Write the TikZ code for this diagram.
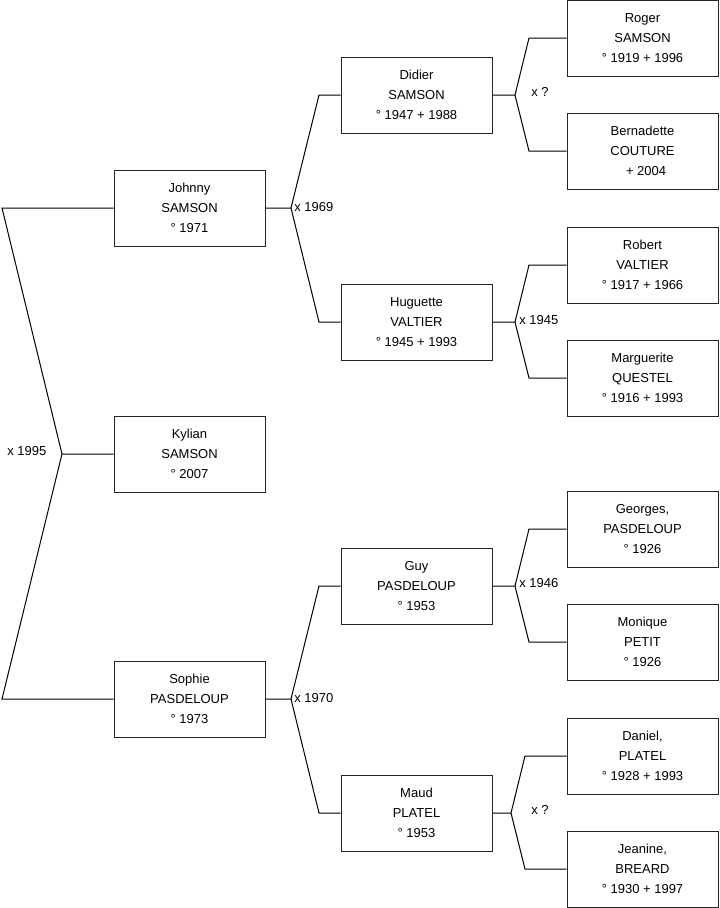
\documentclass[tikz,border=0pt]{standalone}
\usepackage{fontspec}
\setmainfont{Liberation Sans}
\begin{document}
\begin{tikzpicture}[x=0.75pt,y=-0.75pt,
  person/.style={draw=black!85, line width=0.75pt, rectangle, minimum width=113.25pt, minimum height=57pt, inner sep=0pt, align=center, font=\fontsize{9.75}{15}\selectfont},
  link/.style={draw=black, line width=0.75pt},
  lbl/.style={anchor=west, inner sep=0pt, font=\fontsize{9.75}{11}\selectfont}]
\useasboundingbox (0,0) rectangle (719,908);
% persons
\node[person] (johnny) at (189.5,208) {Johnny\\SAMSON\\° 1971};
\node[person] (kylian) at (189.5,454) {Kylian\\SAMSON\\° 2007};
\node[person] (sophie) at (189.5,699) {Sophie\\PASDELOUP\\° 1973};
\node[person] (didier) at (416.5,95) {Didier\\SAMSON\\° 1947 + 1988};
\node[person] (huguette) at (416.5,322) {Huguette\\VALTIER\\° 1945 + 1993};
\node[person] (guy) at (416.5,586) {Guy\\PASDELOUP\\° 1953};
\node[person] (maud) at (416.5,813) {Maud\\PLATEL\\° 1953};
\node[person] (roger) at (642.5,38) {Roger\\SAMSON\\° 1919 + 1996};
\node[person] (bernadette) at (642.5,151) {Bernadette\\COUTURE\\\ \ + 2004};
\node[person] (robert) at (642.5,265) {Robert\\VALTIER\\° 1917 + 1966};
\node[person] (marguerite) at (642.5,378) {Marguerite\\QUESTEL\\° 1916 + 1993};
\node[person] (georges) at (642.5,529) {Georges,\\PASDELOUP\\° 1926};
\node[person] (monique) at (642.5,642) {Monique\\PETIT\\° 1926};
\node[person] (daniel) at (642.5,756) {Daniel,\\PLATEL\\° 1928 + 1993};
\node[person] (jeanine) at (642.5,869) {Jeanine,\\BREARD\\° 1930 + 1997};
% junctions
\coordinate (j0) at (62,454);
\coordinate (l1) at (2,208);
\coordinate (l2) at (2,699);
\coordinate (j1) at (291,208);
\coordinate (j2) at (291,699);
\coordinate (jd) at (515,95);
\coordinate (jh) at (515,322);
\coordinate (jg) at (515,586);
\coordinate (jm) at (511,813);
% connectors
\draw[link] (johnny.west) -- (l1) -- (j0) -- (kylian.west);
\draw[link] (sophie.west) -- (l2) -- (j0);
\draw[link] (johnny.east) -- (j1) -- (319,95) -- (didier.west);
\draw[link] (j1) -- (319,322) -- (huguette.west);
\draw[link] (sophie.east) -- (j2) -- (319,586) -- (guy.west);
\draw[link] (j2) -- (319,813) -- (maud.west);
\draw[link] (didier.east) -- (jd) -- (529,38) -- (roger.west);
\draw[link] (jd) -- (529,151) -- (bernadette.west);
\draw[link] (huguette.east) -- (jh) -- (529,265) -- (robert.west);
\draw[link] (jh) -- (529,378) -- (marguerite.west);
\draw[link] (guy.east) -- (jg) -- (529,529) -- (georges.west);
\draw[link] (jg) -- (529,642) -- (monique.west);
\draw[link] (maud.east) -- (jm) -- (525,756) -- (daniel.west);
\draw[link] (jm) -- (525,869) -- (jeanine.west);
% labels
\node[lbl] (m0) at (7,451) {x 1995};
\node[lbl] (m1) at (294,207) {x 1969};
\node[lbl] (m2) at (294,698) {x 1970};
\node[lbl] (m3) at (531,92) {x ?};
\node[lbl] (m4) at (519,320) {x 1945};
\node[lbl] (m5) at (519,583) {x 1946};
\node[lbl] (m6) at (531,810) {x ?};
\end{tikzpicture}
\end{document}
